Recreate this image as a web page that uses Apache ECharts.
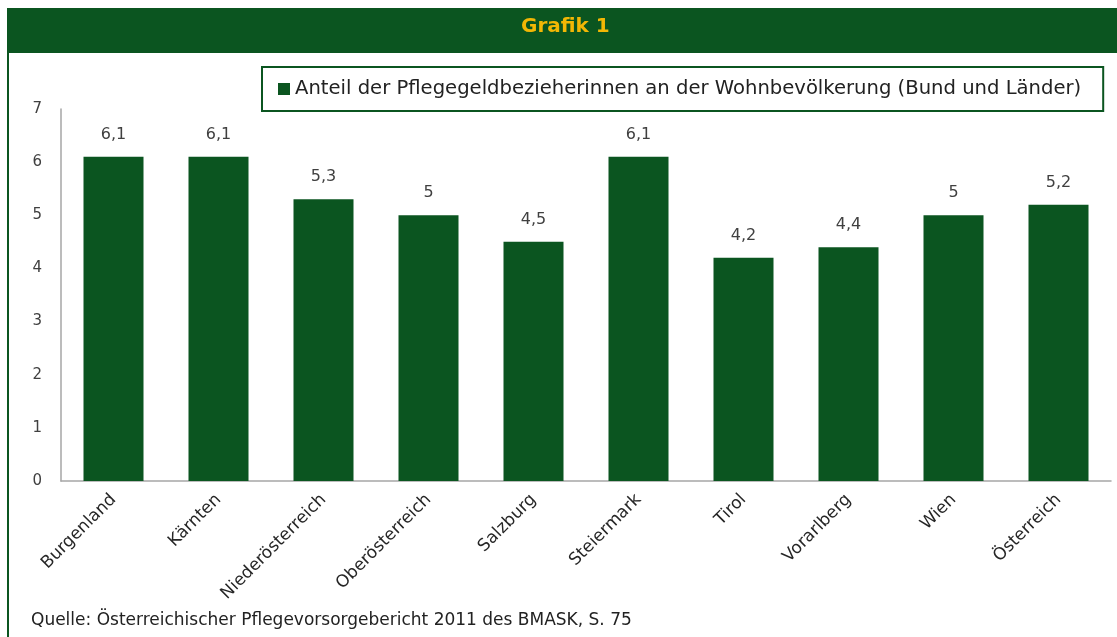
<!DOCTYPE html>
<html>
<head>
<meta charset="utf-8">
<script src="https://cdn.jsdelivr.net/npm/echarts@6/dist/echarts.min.js"></script>
<style>
  html, body { margin: 0; padding: 0; background: #fff; }
  #main { width: 1117px; height: 637px; }
</style>
</head>
<body>
<div id="main"></div>
<script>
// Daten
var laender = ['Burgenland', 'Kärnten', 'Niederösterreich', 'Oberösterreich', 'Salzburg',
               'Steiermark', 'Tirol', 'Vorarlberg', 'Wien', 'Österreich'];
var anteil = [6.1, 6.1, 5.3, 5, 4.5, 6.1, 4.2, 4.4, 5, 5.2];
var serienName = 'Anteil der Pflegegeldbezieherinnen an der Wohnbevölkerung (Bund und Länder)';
var titel = 'Grafik 1';
var quelle = 'Quelle: Österreichischer Pflegevorsorgebericht 2011 des BMASK, S. 75';

var gruen = '#0b5520';
// breitere Schrift, das Original wirkt horizontal gestreckt
var schrift = '"DejaVu Sans", "Liberation Sans", sans-serif';

var myChart = echarts.init(document.getElementById('main'));

myChart.setOption({
    animation: false,
    textStyle: { fontFamily: schrift },
    // Titelbalken + Rahmen links
    graphic: [
        { type: 'rect', left: 7, top: 8, shape: { width: 1110, height: 45 }, style: { fill: gruen } },
        { type: 'rect', left: 7, top: 53, shape: { width: 2, height: 584 }, style: { fill: gruen } },
        {
            type: 'text', left: 521, top: 17,
            style: { text: titel, fill: '#f2b705', font: 'bold 20px ' + schrift }
        },
        {
            type: 'text', left: 31, top: 612,
            style: { text: quelle, fill: '#222', font: '17px ' + schrift }
        }
    ],
    legend: {
        left: 262,
        top: 67,
        data: [serienName],
        icon: 'rect',
        itemWidth: 12,
        itemHeight: 12,
        borderColor: gruen,
        borderWidth: 2,
        borderRadius: 0,
        padding: [12, 22, 12, 16],
        textStyle: { fontSize: 19.6, color: '#222', fontFamily: schrift }
    },
    grid: {
        left: 61,
        right: 6,
        top: 109,
        bottom: 156
    },
    xAxis: {
        type: 'category',
        data: laender,
        axisLine: { lineStyle: { color: '#a6a6a6', width: 1.5 } },
        axisTick: { show: false },
        axisLabel: {
            rotate: 45,
            interval: 0,
            margin: 16,
            fontSize: 17,
            color: '#262626'
        }
    },
    yAxis: {
        type: 'value',
        min: 0,
        max: 7,
        interval: 1,
        axisLine: { show: true, lineStyle: { color: '#a6a6a6', width: 1.5 } },
        axisTick: { show: false },
        splitLine: { show: false },
        axisLabel: { fontSize: 15, color: '#404040', margin: 19 }
    },
    series: [{
        name: serienName,
        type: 'bar',
        data: anteil,
        barWidth: 60,
        itemStyle: { color: gruen },
        label: {
            show: true,
            position: 'top',
            distance: 14,
            fontSize: 16,
            color: '#404040',
            formatter: function (p) { return String(p.value).replace('.', ','); }
        }
    }]
});
</script>
</body>
</html>
